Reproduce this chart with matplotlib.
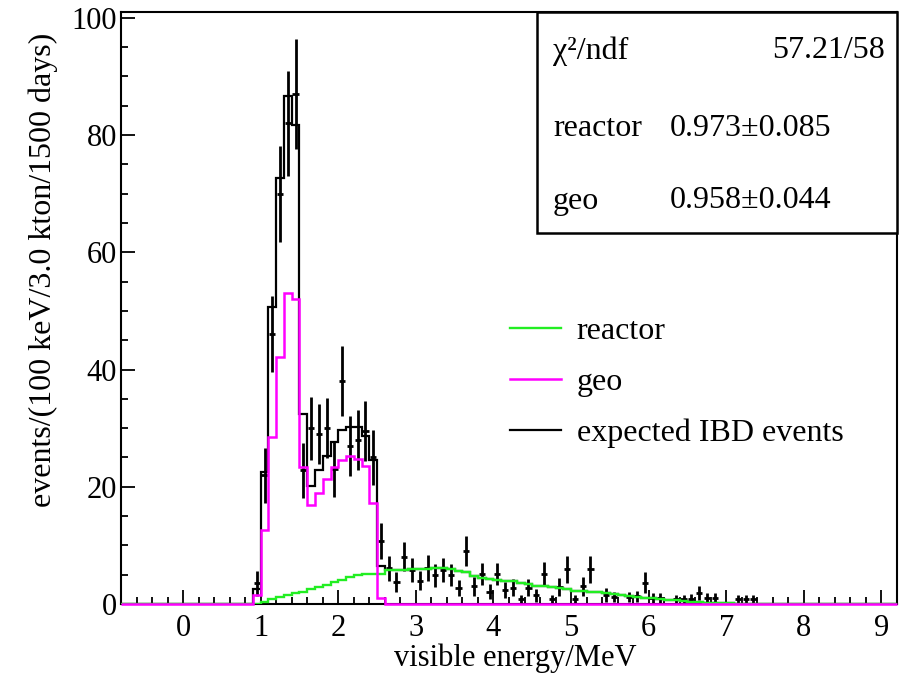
import numpy as np
import matplotlib
matplotlib.use("Agg")
import matplotlib.pyplot as plt
from matplotlib.lines import Line2D
from matplotlib.patches import Rectangle
from matplotlib.ticker import MultipleLocator

plt.rcParams['font.family'] = ['Liberation Serif', 'DejaVu Serif']

# ---------------- data (100 keV bins) ----------------
E_LOW, E_HIGH, N_BINS = -0.8, 9.2, 100

# geo-neutrino spectrum, bins starting at 0.9 MeV
geo_start = 0.9
geo_vals = [1.5, 12.6, 28.5, 42.1, 53.1, 52.0, 23.3, 16.9, 19.0, 21.4,
            23.4, 24.6, 25.2, 24.8, 23.5, 17.3, 1.0]

# reactor spectrum, bins starting at 1.0 MeV
reactor_start = 1.0
reactor_vals = [0.3, 0.8, 1.2, 1.5, 1.8, 2.1, 2.5, 2.9, 3.3, 3.7,
                4.1, 4.6, 5.0, 5.2, 5.2, 5.2,
                5.8, 5.8, 5.8, 5.9, 5.9, 6.0, 6.1, 6.2, 6.0, 5.7,
                5.4, 4.8, 4.4, 4.2, 4.1, 4.0, 3.9, 3.6, 3.4, 3.1,
                3.0, 2.9, 2.8, 2.6, 2.3, 2.2, 2.1, 2.0, 1.9, 1.7,
                1.5, 1.4, 1.2, 1.1, 1.0, 0.8, 0.7, 0.6, 0.5, 0.4,
                0.3, 0.25, 0.2, 0.15, 0.1, 0.05, 0.02]

# expected IBD events, bins starting at 0.9 MeV (above 2.6 MeV = reactor only)
expected_start = 0.9
expected_low_vals = [2.5, 22.6, 50.7, 72.7, 86.6, 81.8, 32.4, 20.1, 22.8, 25.2,
                     27.7, 29.7, 30.2, 30.2, 28.6, 24.6, 6.4]

# pseudo-data points
data_e = [0.95, 1.05, 1.15, 1.25, 1.35, 1.45, 1.55, 1.65, 1.75, 1.85,
          1.95, 2.05, 2.15, 2.25, 2.35, 2.45, 2.55, 2.65, 2.75, 2.85,
          2.95, 3.05, 3.15, 3.25, 3.35, 3.45, 3.55, 3.65, 3.75, 3.85,
          3.95, 4.05, 4.15, 4.25, 4.35, 4.45, 4.55, 4.65, 4.75, 4.85,
          4.95, 5.05, 5.15, 5.25, 5.45, 5.55, 5.75, 5.85, 5.95, 6.05,
          6.15, 6.35, 6.45, 6.55, 6.65, 6.75, 6.85, 7.15, 7.25, 7.35]
data_v = [3.5, 22.0, 46.0, 70.0, 82.0, 87.0, 22.8, 30.0, 29.0, 30.0,
          23.0, 38.0, 27.0, 28.0, 29.5, 25.0, 10.8, 6.1, 3.8, 8.1,
          5.8, 4.0, 6.1, 4.9, 5.8, 4.9, 2.7, 9.0, 3.0, 5.1,
          2.1, 5.1, 2.4, 2.8, 0.9, 2.8, 1.5, 5.2, 0.9, 2.9,
          5.9, 0.9, 3.0, 5.9, 1.5, 1.2, 1.2, 1.3, 3.6, 1.0,
          1.0, 0.8, 0.8, 0.9, 1.8, 1.0, 1.0, 0.8, 0.8, 0.8]
data_err = [2.2, 4.7, 6.5, 8.2, 9.0, 9.4, 4.7, 5.4, 5.1, 5.1,
            4.7, 6.0, 5.1, 5.1, 5.1, 4.7, 3.1, 2.1, 1.7, 2.4,
            2.1, 1.6, 2.2, 2.0, 2.1, 1.9, 1.4, 2.6, 1.6, 1.9,
            1.3, 1.9, 1.4, 1.5, 0.7, 1.5, 1.1, 1.9, 0.7, 1.6,
            2.3, 0.7, 1.6, 2.3, 1.2, 0.9, 0.9, 1.0, 1.8, 0.9,
            0.9, 0.8, 0.8, 0.8, 1.2, 0.8, 0.8, 0.8, 0.8, 0.8]

legend_labels = ['reactor', 'geo', 'expected IBD events']
stats_rows = [('χ²/ndf', '57.21/58'), ('reactor', '0.973±0.085'), ('geo', '0.958±0.044')]

# ---------------- build histograms ----------------
edges = np.linspace(E_LOW, E_HIGH, N_BINS + 1)
BW = (E_HIGH - E_LOW) / N_BINS


def full_hist(start, vals):
    h = np.zeros(N_BINS)
    i0 = int(round((start - E_LOW) / BW))
    h[i0:i0 + len(vals)] = vals
    return h


geo_h = full_hist(geo_start, geo_vals)
reactor_h = full_hist(reactor_start, reactor_vals)
n_tail = int(round((expected_start - reactor_start) / BW)) + len(expected_low_vals)
expected_vals = expected_low_vals + reactor_vals[n_tail:]
expected_h = full_hist(expected_start, expected_vals)

GREEN = '#22ee22'
MAGENTA = '#ff00ff'

# ---------------- figure ----------------
fig = plt.figure(figsize=(9.03, 6.74), dpi=100)
ax = fig.add_axes([121 / 903, 70 / 674, 776 / 903, 592 / 674])

ax.stairs(expected_h, edges, color='black', lw=1.6, zorder=3, baseline=None)
ax.errorbar(data_e, data_v, yerr=data_err, xerr=0.04, fmt='none',
            ecolor='black', elinewidth=2.0, capsize=0, zorder=4)
ax.stairs(reactor_h, edges, color=GREEN, lw=1.7, zorder=5, baseline=None)
ax.stairs(geo_h, edges, color=MAGENTA, lw=1.8, zorder=6, baseline=None, clip_on=False)

ax.set_xlim(E_LOW, E_HIGH)
ax.set_ylim(0, 101)

ax.xaxis.set_major_locator(MultipleLocator(1))
ax.xaxis.set_minor_locator(MultipleLocator(0.2))
ax.yaxis.set_major_locator(MultipleLocator(20))
ax.yaxis.set_minor_locator(MultipleLocator(5))
ax.tick_params(which='both', direction='in', top=False, right=False, width=1.3)
ax.tick_params(which='major', length=10, labelsize=22)
ax.tick_params(which='minor', length=5)
ax.tick_params(axis='x', pad=7)
ax.tick_params(axis='y', pad=3)
for s in ax.spines.values():
    s.set_linewidth(1.5)

ax.set_xlabel('visible energy/MeV', fontsize=22)
ax.xaxis.set_label_coords(0.508, -0.0912)
ax.xaxis.label.set_verticalalignment('center')
ax.set_ylabel('events/(100 keV/3.0 kton/1500 days)', fontsize=23)
ax.yaxis.set_label_coords(-0.1005, 0.564)
ax.yaxis.label.set_verticalalignment('center')
ax.yaxis.label.set_horizontalalignment('center')

handles = [Line2D([], [], color=GREEN, lw=1.7),
           Line2D([], [], color=MAGENTA, lw=1.8),
           Line2D([], [], color='black', lw=1.6)]
ax.legend(handles, legend_labels, loc='upper left', bbox_to_anchor=(0.501, 0.485),
          frameon=False, fontsize=23, handlelength=1.6, handletextpad=0.5,
          labelspacing=0.67, borderpad=0, borderaxespad=0)

# stats box
bx0, by0 = (537 - 121) / 776, (604 - 233) / 592
ax.add_patch(Rectangle((bx0, by0), 1 - bx0, 1 - by0, transform=ax.transAxes,
                       facecolor='white', edgecolor='black', lw=1.8,
                       zorder=10, clip_on=False))
row_y = [(604 - 51) / 592, (604 - 128) / 592, (604 - 201) / 592]
for (lab, val), yy in zip(stats_rows, row_y):
    ax.text((553 - 121) / 776, yy, lab, transform=ax.transAxes, fontsize=23,
            va='center', ha='left', zorder=11)
    if lab.startswith('χ'):
        ax.text((885 - 121) / 776, yy, val, transform=ax.transAxes, fontsize=23,
                va='center', ha='right', zorder=11)
    else:
        ax.text((670 - 121) / 776, yy, val, transform=ax.transAxes, fontsize=23,
                va='center', ha='left', zorder=11)

fig.savefig('out.png', dpi=100)
